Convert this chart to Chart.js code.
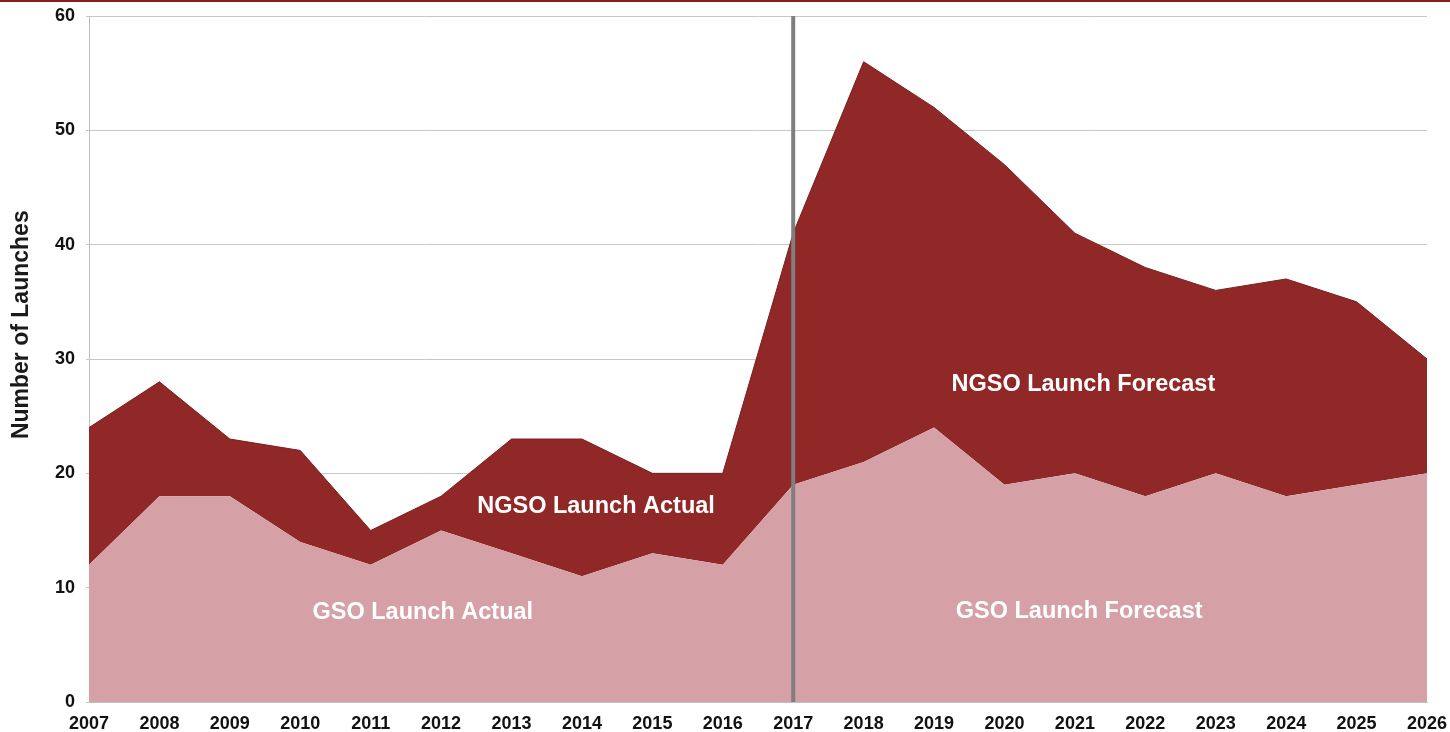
<!DOCTYPE html>
<html>
<head>
<meta charset="utf-8">
<script src="https://cdn.jsdelivr.net/npm/chart.js@4/dist/chart.umd.min.js"></script>
<style>
  html, body { margin: 0; padding: 0; background: #ffffff; }
  #wrap { position: relative; width: 1450px; height: 732px; }
</style>
</head>
<body>
<div id="wrap"><canvas id="c" width="1450" height="732"></canvas></div>
<script>
const years = ['2007','2008','2009','2010','2011','2012','2013','2014','2015','2016','2017','2018','2019','2020','2021','2022','2023','2024','2025','2026'];
const gsoLaunches  = [12, 18, 18, 14, 12, 15, 13, 11, 13, 12, 19, 21, 24, 19, 20, 18, 20, 18, 19, 20];
const ngsoLaunches = [12, 10, 5, 8, 3, 3, 10, 12, 7, 8, 22, 35, 28, 28, 21, 20, 16, 19, 16, 10];
const yTicks = [0, 10, 20, 30, 40, 50, 60];
const dividerYear = '2017';
const yAxisTitle = 'Number of Launches';
const areaLabels = [
  { text: 'NGSO Launch Actual',   year: 2014.2,  value: 17.1 },
  { text: 'GSO Launch Actual',    year: 2011.74, value: 7.8 },
  { text: 'NGSO Launch Forecast', year: 2021.12, value: 27.8 },
  { text: 'GSO Launch Forecast',  year: 2021.06, value: 7.95 }
];

const FONT = '"Liberation Sans", Arial, Helvetica, sans-serif';

const overlay = {
  id: 'overlay',
  beforeDraw(chart) {
    const ctx = chart.ctx;
    ctx.save();
    ctx.fillStyle = '#ffffff';
    ctx.fillRect(0, 0, chart.width, chart.height);
    ctx.restore();
  },
  afterDatasetsDraw(chart) {
    const ctx = chart.ctx;
    const xs = chart.scales.x, ys = chart.scales.y;
    const area = chart.chartArea;
    ctx.save();
    // divider line
    const xd = xs.getPixelForValue(years.indexOf(dividerYear));
    ctx.strokeStyle = '#7f7f7f';
    ctx.lineWidth = 4;
    ctx.beginPath();
    ctx.moveTo(xd, area.top);
    ctx.lineTo(xd, area.bottom);
    ctx.stroke();
    // area labels
    ctx.fillStyle = '#ffffff';
    ctx.font = 'bold 23.5px ' + FONT;
    ctx.textAlign = 'center';
    ctx.textBaseline = 'middle';
    const i0 = Number(years[0]);
    const step = xs.getPixelForValue(1) - xs.getPixelForValue(0);
    areaLabels.forEach(l => {
      const x = xs.getPixelForValue(0) + step * (l.year - i0);
      ctx.fillText(l.text, x, ys.getPixelForValue(l.value));
    });
    // y axis title
    ctx.save();
    ctx.translate(22, ys.getPixelForValue(33.0));
    ctx.rotate(-Math.PI / 2);
    ctx.fillStyle = '#1a1a1a';
    ctx.font = 'bold 23px ' + FONT;
    ctx.fillText(yAxisTitle, 0, 0);
    ctx.restore();
    // top red rule
    ctx.fillStyle = '#8b1c1c';
    ctx.fillRect(0, 0, chart.width, 2);
    ctx.restore();
  }
};

new Chart(document.getElementById('c'), {
  type: 'line',
  data: {
    labels: years,
    datasets: [
      {
        label: 'GSO',
        data: gsoLaunches,
        backgroundColor: '#d5a0a6',
        borderColor: '#d5a0a6',
        borderWidth: 0,
        pointRadius: 0,
        fill: 'origin',
        tension: 0
      },
      {
        label: 'NGSO',
        data: ngsoLaunches,
        backgroundColor: '#8f2826',
        borderColor: '#7a1e1d',
        borderWidth: 1,
        pointRadius: 0,
        fill: '-1',
        tension: 0
      }
    ]
  },
  options: {
    responsive: false,
    animation: false,
    devicePixelRatio: 1,
    layout: { padding: { left: 0, right: 23, top: 16, bottom: 0 } },
    plugins: { legend: { display: false }, tooltip: { enabled: false } },
    scales: {
      x: {
        offset: false,
        grid: { display: false, drawTicks: true, tickLength: 3, color: '#bfbfbf' },
        border: { color: '#bfbfbf', width: 1 },
        ticks: {
          color: '#111111',
          font: { family: FONT, size: 18, weight: 'bold' },
          maxRotation: 0, autoSkip: false, padding: 8
        },
        afterFit(scale) {
          scale.height = 30;
          scale.paddingLeft = 0;
          scale.paddingRight = 0;
        }
      },
      y: {
        stacked: true,
        min: 0, max: 60,
        afterBuildTicks(scale) { scale.ticks = yTicks.map(v => ({ value: v })); },
        grid: { color: '#c8c8c8', lineWidth: 1, drawTicks: true, tickLength: 3 },
        border: { color: '#bfbfbf', width: 1 },
        ticks: {
          color: '#111111',
          font: { family: FONT, size: 18, weight: 'bold' },
          padding: 11
        },
        title: { display: false },
        afterFit(scale) {
          scale.width = 89;
          scale.paddingTop = 0;
          scale.paddingBottom = 0;
        }
      }
    }
  },
  plugins: [overlay]
});
</script>
</body>
</html>
